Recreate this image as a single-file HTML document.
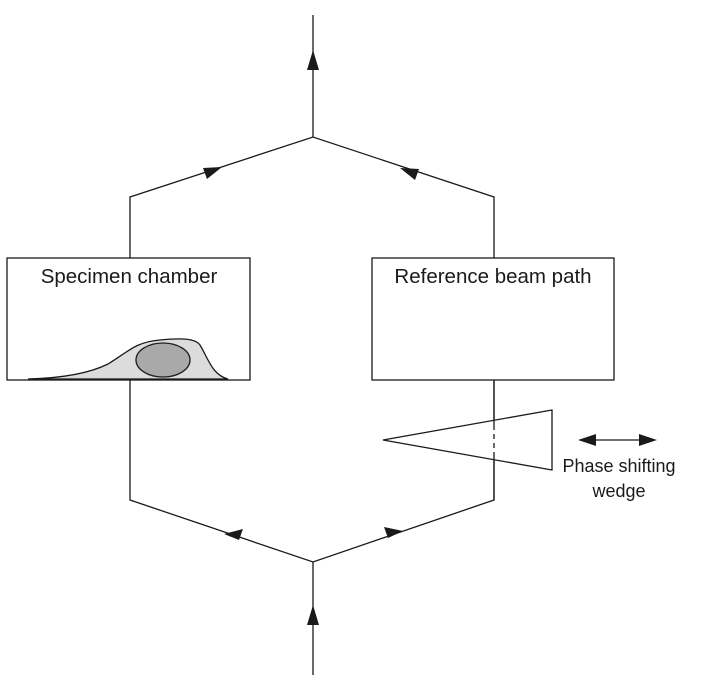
<!DOCTYPE html>
<html><head><style>body{margin:0;background:#fff}svg{display:block}text{font-family:"Liberation Sans",Arial,sans-serif;fill:#1a1a1a}</style></head>
<body>
<svg width="707" height="689" viewBox="0 0 707 689" xmlns="http://www.w3.org/2000/svg">
<g stroke="#1a1a1a" stroke-width="1.3" fill="none">
<line x1="313" y1="15" x2="313" y2="137"/>
<polyline points="130,258 130,197 313,137 494,197 494,258"/>
<polyline points="130,380 130,500 313,562 494,500 494,380"/>
<line x1="313" y1="562" x2="313" y2="675"/>
<rect x="7" y="258" width="243" height="122" fill="#fff"/>
<rect x="372" y="258" width="242" height="122" fill="#fff"/>
<path d="M28,379 C65,378 90,373 108,364 C128,352 135,342 160,340 C180,338 195,338 200,345 C208,358 212,375 228,379 Z" fill="#dcdcdc"/>
<ellipse cx="163" cy="360" rx="27" ry="17" fill="#a9a9a9"/>
<polygon points="383,440 552,410 552,470" fill="#fff"/>
<line x1="494" y1="425" x2="494" y2="455" stroke-dasharray="5,4"/>
<line x1="590" y1="440" x2="645" y2="440"/>
</g>
<line x1="494" y1="380" x2="494" y2="425" stroke="#1a1a1a" stroke-width="1.3"/>
<line x1="494" y1="455" x2="494" y2="500" stroke="#1a1a1a" stroke-width="1.3"/>
<g fill="#1a1a1a">
<polygon points="313,50 307,70 319,70"/>
<polygon points="313,605 307,625 319,625"/>
<polygon points="578,440 596,434 596,446"/>
<polygon points="657,440 639,434 639,446"/>
<polygon points="222,167 203,168 207,179"/>
<polygon points="400,168 419,169 415,180"/>
<polygon points="224,534 243,529 239,540"/>
<polygon points="403,531 384,527 388,538"/>
</g>
<text x="129" y="283" font-size="20.5" text-anchor="middle">Specimen chamber</text>
<text x="493" y="283" font-size="20.5" text-anchor="middle">Reference beam path</text>
<text x="619" y="472" font-size="18" text-anchor="middle">Phase shifting</text>
<text x="619" y="497" font-size="18" text-anchor="middle">wedge</text>
</svg>
</body></html>
